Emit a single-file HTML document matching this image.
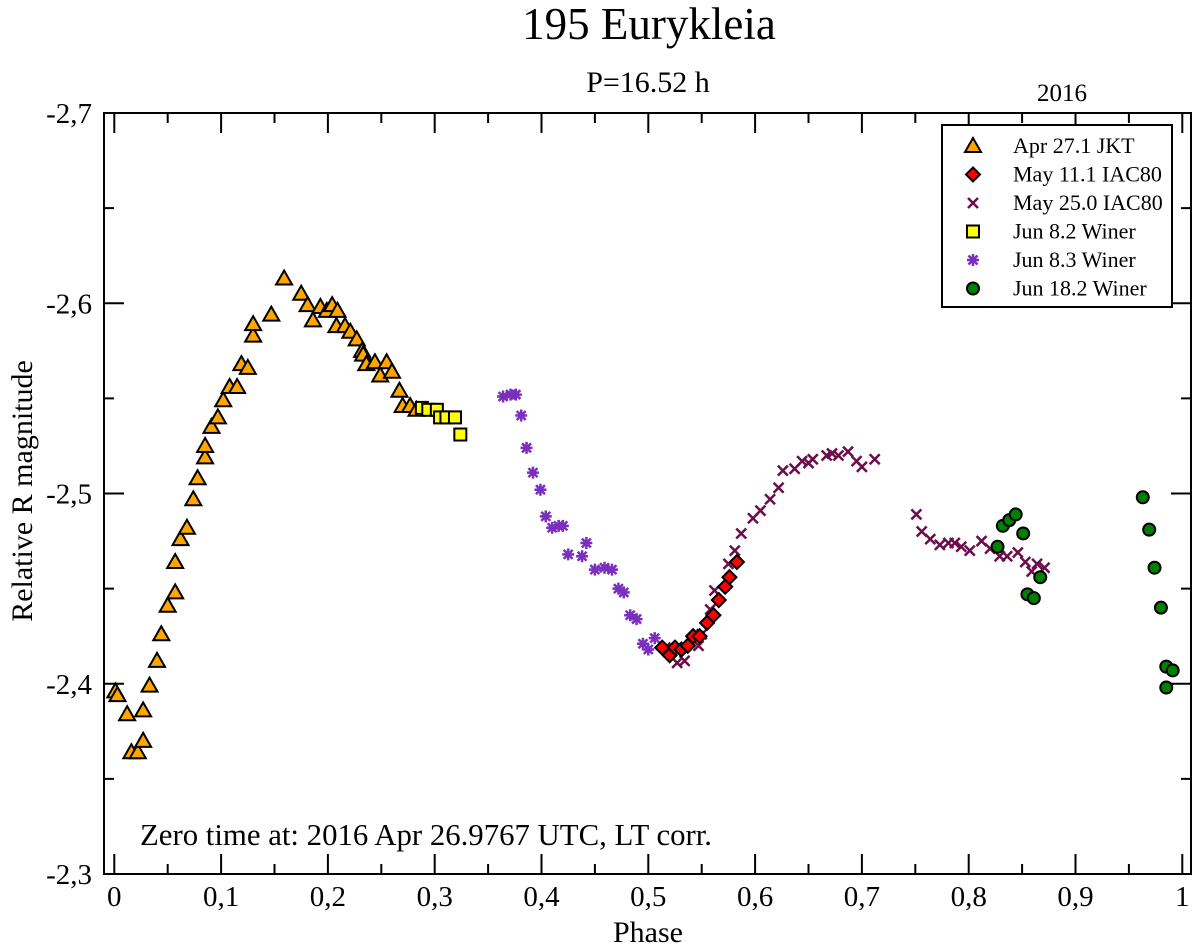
<!DOCTYPE html>
<html><head><meta charset="utf-8"><style>
html,body{margin:0;padding:0;background:#fff;}
svg{display:block;font-family:"Liberation Serif",serif;}
</style></head><body>
<svg id="chart" width="1200" height="950" viewBox="0 0 1200 950" xmlns="http://www.w3.org/2000/svg">
<rect x="0" y="0" width="1200" height="950" fill="#fff"/>
<text x="649" y="39" font-size="45" text-anchor="middle">195 Eurykleia</text>
<text x="648" y="92" font-size="30" text-anchor="middle">P=16.52 h</text>
<text x="1062" y="101" font-size="25" text-anchor="middle">2016</text>
<g id="axes"></g>
<g id="marks"></g>
<text x="140" y="845" font-size="31" textLength="572" lengthAdjust="spacingAndGlyphs">Zero time at: 2016 Apr 26.9767 UTC, LT corr.</text>
<text x="648" y="942" font-size="30" text-anchor="middle">Phase</text>
<text x="0" y="0" font-size="30" text-anchor="middle" transform="translate(32,491) rotate(-90)">Relative R magnitude</text>
<g>
<rect x="942" y="125" width="230" height="182" fill="#fff" stroke="#000" stroke-width="2"/>
<g id="legend-entries"></g>
</g>
</svg>
<script>
const xTicks=[0,0.1,0.2,0.3,0.4,0.5,0.6,0.7,0.8,0.9,1];
const xTickLabels=["0","0,1","0,2","0,3","0,4","0,5","0,6","0,7","0,8","0,9","1"];
const yTicks=[-2.7,-2.6,-2.5,-2.4,-2.3];
const yTickLabels=["-2,7","-2,6","-2,5","-2,4","-2,3"];

const aprPhase=[0.001,0.003,0.012,0.016,0.022,0.027,0.027,0.033,0.040,0.044,0.050,0.057,0.057,0.062,0.068,0.074,0.078,0.085,0.085,0.091,0.097,0.102,0.108,0.115,0.119,0.125,0.130,0.130,0.147,0.159,0.175,0.181,0.186,0.193,0.199,0.204,0.209,0.208,0.216,0.221,0.227,0.232,0.233,0.236,0.244,0.249,0.255,0.260,0.267,0.270,0.277,0.283];
const aprMag=[-2.396,-2.394,-2.384,-2.364,-2.364,-2.370,-2.386,-2.399,-2.412,-2.426,-2.441,-2.448,-2.464,-2.476,-2.482,-2.497,-2.508,-2.519,-2.525,-2.535,-2.540,-2.549,-2.556,-2.556,-2.568,-2.566,-2.583,-2.589,-2.594,-2.613,-2.605,-2.599,-2.591,-2.598,-2.596,-2.599,-2.596,-2.588,-2.588,-2.585,-2.581,-2.575,-2.573,-2.568,-2.569,-2.562,-2.569,-2.564,-2.554,-2.546,-2.546,-2.544];
const may11Phase=[0.513,0.520,0.525,0.531,0.537,0.542,0.548,0.555,0.561,0.566,0.572,0.576,0.583];
const may11Mag=[-2.419,-2.415,-2.419,-2.418,-2.420,-2.425,-2.425,-2.432,-2.436,-2.444,-2.451,-2.456,-2.464];
const may25Phase=[0.516,0.527,0.534,0.547,0.550,0.558,0.562,0.575,0.581,0.587,0.598,0.605,0.614,0.622,0.626,0.637,0.644,0.650,0.654,0.667,0.672,0.678,0.687,0.695,0.700,0.712,0.751,0.756,0.764,0.773,0.781,0.787,0.793,0.801,0.812,0.820,0.829,0.836,0.846,0.853,0.859,0.864,0.871];
const may25Mag=[-2.419,-2.411,-2.412,-2.420,-2.426,-2.439,-2.449,-2.463,-2.470,-2.479,-2.487,-2.491,-2.497,-2.503,-2.512,-2.513,-2.517,-2.516,-2.518,-2.520,-2.521,-2.520,-2.522,-2.517,-2.514,-2.518,-2.489,-2.480,-2.476,-2.473,-2.474,-2.474,-2.472,-2.470,-2.475,-2.471,-2.467,-2.467,-2.469,-2.464,-2.459,-2.463,-2.461];
const jun82Phase=[0.288,0.294,0.302,0.305,0.311,0.319,0.324];
const jun82Mag=[-2.545,-2.544,-2.544,-2.540,-2.540,-2.540,-2.531];
const jun83Phase=[0.364,0.371,0.376,0.381,0.386,0.392,0.399,0.404,0.410,0.416,0.420,0.425,0.438,0.442,0.450,0.459,0.466,0.472,0.477,0.483,0.489,0.495,0.500,0.506];
const jun83Mag=[-2.551,-2.552,-2.552,-2.541,-2.524,-2.511,-2.502,-2.488,-2.482,-2.483,-2.483,-2.468,-2.467,-2.474,-2.460,-2.461,-2.460,-2.450,-2.448,-2.436,-2.434,-2.421,-2.418,-2.424];
const jun18Phase=[0.827,0.832,0.838,0.844,0.851,0.867,0.855,0.861,0.963,0.969,0.974,0.980,0.985,0.991,0.985];
const jun18Mag=[-2.472,-2.483,-2.486,-2.489,-2.479,-2.456,-2.447,-2.445,-2.498,-2.481,-2.461,-2.440,-2.409,-2.407,-2.398];

const NS="http://www.w3.org/2000/svg";
const L=104,R=1191,T=113,B=874;
function xs(v){return 114.3+v*1068;}
function ys(v){return T+(v+2.7)/0.4*(B-T);}
function mk(tag,attrs,parent){const e=document.createElementNS(NS,tag);for(const k in attrs)e.setAttribute(k,attrs[k]);parent.appendChild(e);return e;}

const axes=document.getElementById('axes');
const frame=mk('rect',{x:L,y:T,width:R-L,height:B-T,fill:'none',stroke:'#000','stroke-width':2},axes);


for(let i=0;i<=20;i++){
  const v=i*0.05, x=xs(v), len=(i%2===0)?20:10;
  const t1=mk('line',{x1:x,y1:B,x2:x,y2:B-len,stroke:'#000','stroke-width':2},axes);
  
  
  const t2=mk('line',{x1:x,y1:T,x2:x,y2:T+len,stroke:'#000','stroke-width':2},axes);
  
  
}
xTicks.forEach((v,i)=>{
  const t=mk('text',{x:xs(v),y:906,'font-size':29,'text-anchor':'middle'},axes);
  
  
  t.textContent=xTickLabels[i];
});
for(let i=0;i<=8;i++){
  const v=-2.7+i*0.05, y=ys(v), len=(i%2===0)?20:10;
  const t1=mk('line',{x1:L,y1:y,x2:L+len,y2:y,stroke:'#000','stroke-width':2},axes);
  
  
  const t2=mk('line',{x1:R,y1:y,x2:R-len,y2:y,stroke:'#000','stroke-width':2},axes);
  
  
}
yTicks.forEach((v,i)=>{
  const t=mk('text',{x:92,y:ys(v)+10,'font-size':29,'text-anchor':'end'},axes);
  
  
  t.textContent=yTickLabels[i];
});

function drawMarker(kind,x,y,parent){
  let e;
  if(kind==='tri'){
    e=mk('polygon',{points:`${x},${y-8} ${x-8},${y+6} ${x+8},${y+6}`,fill:'#ffa500',stroke:'#000','stroke-width':2},parent);
  }else if(kind==='dia'){
    e=mk('polygon',{points:`${x},${y-7} ${x+7},${y} ${x},${y+7} ${x-7},${y}`,fill:'#ff0000',stroke:'#000','stroke-width':2},parent);
  }else if(kind==='sq'){
    e=mk('rect',{x:x-6,y:y-6,width:12,height:12,fill:'#ffff00',stroke:'#000','stroke-width':2},parent);
  }else if(kind==='cir'){
    e=mk('circle',{cx:x,cy:y,r:6,fill:'#008000',stroke:'#000','stroke-width':2},parent);
  }else if(kind==='x'){
    e=mk('path',{d:`M${x-5},${y-5}L${x+5},${y+5}M${x-5},${y+5}L${x+5},${y-5}`,stroke:'#6b0d4a','stroke-width':2.5,fill:'none'},parent);
  }else{
    e=mk('path',{d:`M${x-6},${y}L${x+6},${y}M${x},${y-6}L${x},${y+6}M${x-4.5},${y-4.5}L${x+4.5},${y+4.5}M${x-4.5},${y+4.5}L${x+4.5},${y-4.5}`,stroke:'#7b2fbe','stroke-width':2.5,fill:'none'},parent);
  }
  return e;
}
const marks=document.getElementById('marks');
const series=[
  ['tri',aprPhase,aprMag,'apr27-point'],
  ['sq',jun82Phase,jun82Mag,'jun8-2-point'],
  ['star',jun83Phase,jun83Mag,'jun8-3-point'],
  ['x',may25Phase,may25Mag,'may25-point'],
  ['dia',may11Phase,may11Mag,'may11-point'],
  ['cir',jun18Phase,jun18Mag,'jun18-point']
];
series.forEach(s=>{
  s[1].forEach((p,i)=>{
    const e=drawMarker(s[0],xs(p),ys(s[2][i]),marks);
    
    
  });
});
const legendKinds=['tri','dia','x','sq','star','cir'];
const legendLabels=["Apr 27.1 JKT","May 11.1 IAC80","May 25.0 IAC80","Jun 8.2 Winer","Jun 8.3 Winer","Jun 18.2 Winer"];
const lg=document.getElementById('legend-entries');
legendLabels.forEach((lab,i)=>{
  const y=146+i*28.5;
  const m=drawMarker(legendKinds[i],973,y,lg);
  
  
  const t=mk('text',{x:1013,y:y+7,'font-size':22},lg);
  
  
  t.textContent=lab;
});
</script>
</body></html>
